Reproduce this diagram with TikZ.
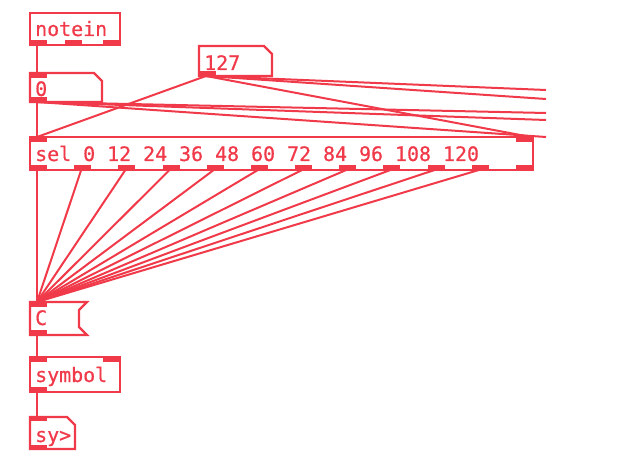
\documentclass[tikz,border=0pt]{standalone}
\usepackage{fontspec}
\newfontfamily\pdfont[FakeBold=0.7]{DejaVu Sans Mono}
\usetikzlibrary{positioning,calc}
\definecolor{pdred}{RGB}{240,58,74}

\begin{document}
\begin{tikzpicture}[
    x=1bp, y=-1bp,
    box/.style={draw=pdred, line width=2.2bp, line join=miter},
    port/.style={fill=pdred},
    wire/.style={draw=pdred, line width=2bp},
    pdtext/.style={text=pdred, font=\pdfont\fontsize{20}{24}\selectfont, inner sep=0pt, anchor=base west}
]
    \useasboundingbox (0,0) rectangle (618,474);

    % objects
    \draw[box] (30,13) rectangle (120,45);
    \node[pdtext] (notein) at (35,36) {notein};
    \fill[port] (30,40) rectangle (47,45);
    \fill[port] (65,40) rectangle (82,45);
    \fill[port] (103,40) rectangle (120,45);
    \coordinate (notein-o0) at (37,45);

    \draw[box] (30,73) -- (94,73) -- (102,81) -- (102,102) -- (30,102) -- cycle;
    \node[pdtext] (zero) at (35,96) {0};
    \fill[port] (30,73) rectangle (47,78);
    \fill[port] (30,97) rectangle (47,102);
    \coordinate (zero-i0) at (37,73);
    \coordinate (zero-o0) at (37,102);

    \draw[box] (199,46) -- (264,46) -- (272,54) -- (272,76) -- (199,76) -- cycle;
    \node[pdtext] (top) at (204,70) {127};
    \fill[port] (199,71) rectangle (216,76);
    \coordinate (top-o0) at (206,76);

    \draw[box] (30,137) rectangle (533,170);
    \node[pdtext] (sel) at (35,161) {sel 0 12 24 36 48 60 72 84 96 108 120};
    \fill[port] (30,137) rectangle (47,142);
    \fill[port] (516,137) rectangle (533,142);
    \coordinate (sel-i0) at (37,137);
    \coordinate (sel-i1) at (531,137);
    \foreach \i in {0,...,11} {
        \fill[port] ({30+44.18*\i},165) rectangle ({47+44.18*\i},170);
        \coordinate (sel-o\i) at ({37+44.18*\i},170);
    }

    \draw[box] (30,302) -- (87,302) -- (79,310) -- (79,327) -- (87,335) -- (30,335) -- cycle;
    \node[pdtext] (msg) at (35,325) {C};
    \fill[port] (30,302) rectangle (47,307);
    \fill[port] (30,330) rectangle (47,335);
    \coordinate (msg-i0) at (37,302);
    \coordinate (msg-o0) at (37,335);

    \draw[box] (30,357) rectangle (120,392);
    \node[pdtext] (symbol) at (35,382) {symbol};
    \fill[port] (30,357) rectangle (47,362);
    \fill[port] (103,357) rectangle (120,362);
    \fill[port] (30,387) rectangle (47,392);
    \coordinate (symbol-i0) at (37,357);
    \coordinate (symbol-o0) at (37,392);

    \draw[box] (30,417) -- (67,417) -- (75,425) -- (75,449) -- (30,449) -- cycle;
    \node[pdtext] (sym) at (35,442) {sy>};
    \fill[port] (30,417) rectangle (47,421);
    \fill[port] (30,445) rectangle (47,449);
    \coordinate (sym-i0) at (37,417);

    % wires leaving the visible canvas
    \coordinate (edge-a) at (546,90);
    \coordinate (edge-b) at (546,99);
    \coordinate (edge-c) at (546,113);
    \coordinate (edge-d) at (546,120);
    \coordinate (edge-e) at (546,137);

    \draw[wire] (notein-o0) -- (zero-i0);
    \draw[wire] (zero-o0) -- (sel-i0);
    \draw[wire] (zero-o0) -- (edge-c);
    \draw[wire] (zero-o0) -- (edge-d);
    \draw[wire] (zero-o0) -- (edge-e);
    \draw[wire] (top-o0) -- (sel-i0);
    \draw[wire] (top-o0) -- (sel-i1);
    \draw[wire] (top-o0) -- (edge-a);
    \draw[wire] (top-o0) -- (edge-b);
    \foreach \i in {0,...,10}
        \draw[wire] (sel-o\i) -- (msg-i0);
    \draw[wire] (msg-o0) -- (symbol-i0);
    \draw[wire] (symbol-o0) -- (sym-i0);
\end{tikzpicture}
\end{document}
